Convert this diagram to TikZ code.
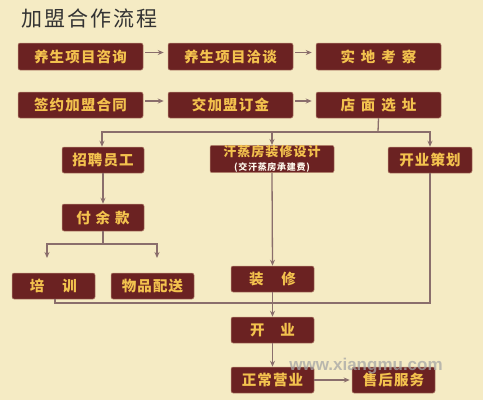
\documentclass[tikz,border=0pt]{standalone}
\usepackage{fontspec}
\newfontfamily\cjk{Noto Sans CJK SC}[LetterSpace=8]
\newfontfamily\cjkt{Noto Sans CJK SC}[LetterSpace=10]
\newfontfamily\wmfont{Liberation Sans}
\usetikzlibrary{arrows.meta}
\definecolor{bg}{HTML}{F5EBC4}
\definecolor{boxfill}{HTML}{6B2222}
\definecolor{boxline}{HTML}{B98A72}
\definecolor{gold}{HTML}{F3C24E}
\definecolor{linec}{HTML}{8A6E6C}
\tikzset{
  box/.style={draw=boxline, line width=0.5pt, fill=boxfill, rounded corners=2pt,
    text=gold, font=\cjk\bfseries\fontsize{14.5}{16}\selectfont, inner sep=0pt,
    minimum height=26pt},
  conn/.style={draw=linec, line width=1.3pt},
  arr/.style={conn, -{Stealth[length=6pt,width=5pt]}},
}
\begin{document}
\begin{tikzpicture}[x=1pt,y=-1pt]
\fill[bg] (0,0) rectangle (483,400);
\useasboundingbox (0,0) rectangle (483,400);
\node[anchor=west, text=black!80, font=\cjkt\fontsize{21}{24}\selectfont, inner sep=0pt] (title) at (21,18) {加盟合作流程};
% row 1
\node[box, minimum width=125pt, minimum height=27pt] (b1) at (80.5,56.5) {养生项目咨询};
\node[box, minimum width=125pt, minimum height=27pt] (b2) at (230.5,56.5) {养生项目洽谈};
\node[box, minimum width=125pt, minimum height=27pt] (b3) at (378.5,56.5) {实\hspace{6pt}地\hspace{6pt}考\hspace{6pt}察};
% row 2
\node[box, minimum width=125pt] (b4) at (80.5,105) {签约加盟合同};
\node[box, minimum width=125pt] (b5) at (230.5,105) {交加盟订金};
\node[box, minimum width=125pt] (b6) at (378.5,105) {店\hspace{6pt}面\hspace{6pt}选\hspace{6pt}址};
% row 3
\node[box, minimum width=82pt] (c1) at (103,160) {招聘员工};
\node[box, minimum width=124pt, align=center] (c2) at (272,159) {\fontsize{13}{13}\selectfont 汗蒸房装修设计\\[-1.5pt]{\fontsize{9}{9}\selectfont\color{white!90!gold}(交汗蒸房承建费)}};
\node[box, minimum width=84pt] (c3) at (430,160) {开业策划};
\node[box, minimum width=82pt, minimum height=27pt] (d1) at (103,217.5) {付\hspace{5pt}余\hspace{5pt}款};
% row 4
\node[box, minimum width=83pt] (e1) at (53.5,286) {培\hspace{18pt}训};
\node[box, minimum width=83pt] (e2) at (152.5,286) {物品配送};
\node[box, minimum width=83pt] (e3) at (272.5,279) {装\hspace{18pt}修};
\node[box, minimum width=83pt] (f) at (272.5,330) {开\hspace{16pt}业};
\node[box, minimum width=83pt] (g) at (272.5,380) {正常营业};
\node[box, minimum width=83pt] (h) at (393.5,380) {售后服务};
% watermark
\node[text=gray!70, opacity=0.75, font=\wmfont\bfseries\fontsize{17}{18}\selectfont, inner sep=0pt] (wm) at (366,366) {www.xiangmu.com};
% connectors
\draw[arr, shorten <=2pt, shorten >=4pt] ([yshift=4pt]b1.east) -- ([yshift=4pt]b2.west);
\draw[arr, shorten <=2pt, shorten >=4pt] ([yshift=4pt]b2.east) -- ([yshift=4pt]b3.west);
\draw[arr, shorten <=2pt, shorten >=4pt] ([yshift=4pt]b4.east) -- ([yshift=4pt]b5.west);
\draw[arr, shorten <=2pt, shorten >=4pt] ([yshift=4pt]b5.east) -- ([yshift=4pt]b6.west);
\coordinate (j) at (378,132);
\draw[conn] (b6.south) -- (j);
\draw[arr] (j) -| ([xshift=-1pt]c1.north);
\draw[arr] (j) -| (c3.north);
\draw[arr] (c2.north |- j) -- (c2.north);
\draw[arr] (c1.south) -- (d1.north);
\coordinate (k) at (103,244);
\coordinate (ka) at (47,258);
\coordinate (kb) at (157,258);
\draw[conn] (d1.south) -- (k);
\draw[arr] (k) -| (ka);
\draw[arr] (k) -| (kb);
\draw[arr] (c2.south) -- (e3.north);
\coordinate (m) at (430,303);
\draw[conn] ([xshift=1.5pt]e1.south) |- (m) -- (c3.south);
\draw[arr] (e3.south) -- (f.north);
\draw[arr] (f.south) -- (g.north);
\draw[arr, shorten >=2pt] (g.east) -- (h.west);
\end{tikzpicture}
\end{document}
